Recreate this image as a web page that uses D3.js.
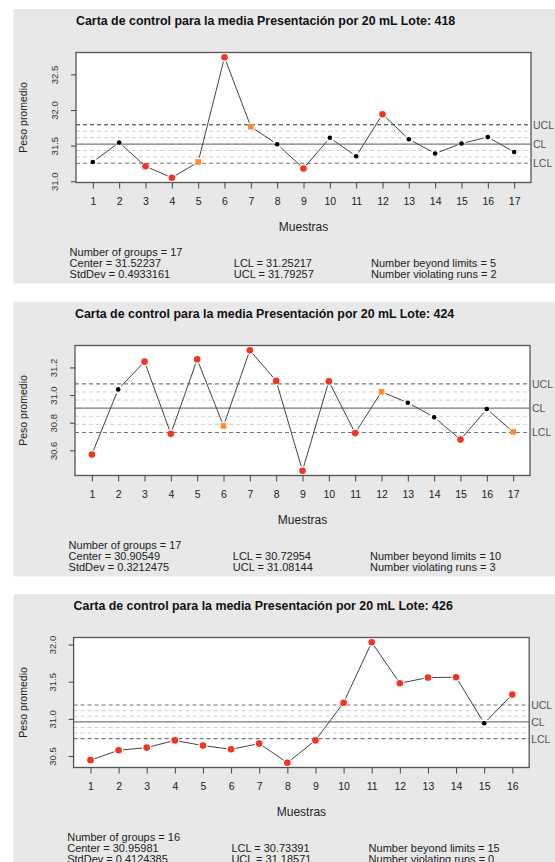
<!DOCTYPE html>
<html>
<head>
<meta charset="utf-8">
<script src="https://cdn.jsdelivr.net/npm/d3@7"></script>
<style>
body { margin: 0; background: #fff; }
svg text { font-family: "Liberation Sans", Arial, Helvetica, sans-serif; }
</style>
</head>
<body>
<div id="chart"></div>
<script>
var width = 555, height = 862;

var lotes = ["418", "424", "426"];

// lote 418
var muestras418 = [1, 2, 3, 4, 5, 6, 7, 8, 9, 10, 11, 12, 13, 14, 15, 16, 17];
var pesos418 = [31.27, 31.545, 31.21, 31.05, 31.27, 32.74, 31.765, 31.52, 31.18, 31.61, 31.35, 31.94, 31.59, 31.39, 31.53, 31.62, 31.41];
// n = normal, r = fuera de limites, o = racha
var estado418 = ["n", "n", "r", "r", "o", "r", "o", "n", "r", "n", "n", "r", "n", "n", "n", "n", "n"];
var ticks418 = [31.0, 31.5, 32.0, 32.5];
var limites418 = [31.25217, 31.52237, 31.79257]; // LCL, CL, UCL
var resumen418 = ["Number of groups = 17", "Center = 31.52237", "StdDev = 0.4933161",
                  "LCL = 31.25217", "UCL = 31.79257", "Number beyond limits = 5", "Number violating runs = 2"];

// lote 424
var muestras424 = [1, 2, 3, 4, 5, 6, 7, 8, 9, 10, 11, 12, 13, 14, 15, 16, 17];
var pesos424 = [30.57, 31.041, 31.242, 30.72, 31.259, 30.777, 31.324, 31.103, 30.453, 31.10, 30.725, 31.024, 30.945, 30.84, 30.678, 30.899, 30.734];
var estado424 = ["r", "n", "r", "r", "r", "o", "r", "r", "r", "r", "r", "o", "n", "n", "r", "n", "o"];
var ticks424 = [30.6, 30.8, 31.0, 31.2];
var limites424 = [30.72954, 30.90549, 31.08144];
var resumen424 = ["Number of groups = 17", "Center = 30.90549", "StdDev = 0.3212475",
                  "LCL = 30.72954", "UCL = 31.08144", "Number beyond limits = 10", "Number violating runs = 3"];

// lote 426
var muestras426 = [1, 2, 3, 4, 5, 6, 7, 8, 9, 10, 11, 12, 13, 14, 15, 16];
var pesos426 = [30.444, 30.577, 30.613, 30.71, 30.64, 30.59, 30.667, 30.41, 30.71, 31.217, 32.03, 31.48, 31.555, 31.56, 30.94, 31.328];
var estado426 = ["r", "r", "r", "r", "r", "r", "r", "r", "r", "r", "r", "r", "r", "r", "n", "r"];
var ticks426 = [30.5, 31.0, 31.5, 32.0];
var limites426 = [30.73391, 30.95981, 31.18571];
var resumen426 = ["Number of groups = 16", "Center = 30.95981", "StdDev = 0.4124385",
                  "LCL = 30.73391", "UCL = 31.18571", "Number beyond limits = 15", "Number violating runs = 0"];

// layout de cada panel
var panelTop = [9, 302, 594];
var boxLeft = [76, 75, 73.6];
var boxRight = [531, 530, 529.2];

var svg = d3.select("#chart").append("svg")
    .attr("width", width)
    .attr("height", height);

function drawPanel(i, muestras, pesos, estado, ticks, limites, resumen) {
    var top = panelTop[i];
    var g = svg.append("g");
    var yTop = top + 43.5, yBot = top + 173.5;

    g.append("rect")
        .attr("x", 13.5).attr("y", top)
        .attr("width", width - 13.5).attr("height", 274.5)
        .attr("fill", "#e8e8e8");

    var lo = d3.min(pesos.concat(limites)), hi = d3.max(pesos.concat(limites));
    var pad = (hi - lo) * 0.04;
    var y = d3.scaleLinear().domain([lo - pad, hi + pad]).range([yBot, yTop]);
    var n = muestras.length;
    var x = d3.scaleLinear()
        .domain([1 - 0.04 * (n - 1), n + 0.04 * (n - 1)])
        .range([boxLeft[i], boxRight[i]]);

    g.append("rect")
        .attr("x", boxLeft[i]).attr("y", yTop)
        .attr("width", boxRight[i] - boxLeft[i]).attr("height", yBot - yTop)
        .attr("fill", "#fff");

    // zonas de 1 y 2 sigma
    var sigma = (limites[2] - limites[1]) / 3;
    [-2, -1, 1, 2].forEach(function(k) {
        g.append("line")
            .attr("x1", boxLeft[i]).attr("x2", boxRight[i])
            .attr("y1", y(limites[1] + k * sigma)).attr("y2", y(limites[1] + k * sigma))
            .attr("stroke", "#cfcfcf").attr("stroke-dasharray", "4,3");
    });
    // LCL, CL, UCL
    limites.forEach(function(v, j) {
        g.append("line")
            .attr("x1", boxLeft[i]).attr("x2", boxRight[i])
            .attr("y1", y(v)).attr("y2", y(v))
            .attr("stroke", j == 1 ? "#7a7a7a" : (i == 0 && j == 2 ? "#333" : "#777"))
            .attr("stroke-width", j == 1 ? 1.3 : 1.1)
            .attr("stroke-dasharray", j == 1 ? null : "4,3");
        g.append("text")
            .attr("x", boxRight[i] + 2).attr("y", y(v))
            .attr("dominant-baseline", "central")
            .attr("font-size", "10.5px").attr("fill", "#555")
            .text(["LCL", "CL", "UCL"][j]);
    });

    // segmentos con hueco junto a cada punto
    var gap = 4.5;
    for (var k = 0; k < n - 1; k++) {
        var x1 = x(muestras[k]), y1 = y(pesos[k]);
        var x2 = x(muestras[k + 1]), y2 = y(pesos[k + 1]);
        var len = Math.sqrt((x2 - x1) * (x2 - x1) + (y2 - y1) * (y2 - y1));
        if (len <= 2 * gap) continue;
        var ux = (x2 - x1) / len, uy = (y2 - y1) / len;
        g.append("line")
            .attr("x1", x1 + ux * gap).attr("y1", y1 + uy * gap)
            .attr("x2", x2 - ux * gap).attr("y2", y2 - uy * gap)
            .attr("stroke", "#444").attr("stroke-width", 1);
    }

    muestras.forEach(function(m, k) {
        if (estado[k] == "o") {
            g.append("rect")
                .attr("x", x(m) - 2.8).attr("y", y(pesos[k]) - 2.8)
                .attr("width", 5.6).attr("height", 5.6)
                .attr("fill", "#fb8c2f");
        } else {
            g.append("circle")
                .attr("cx", x(m)).attr("cy", y(pesos[k]))
                .attr("r", estado[k] == "r" ? 3.3 : 2.3)
                .attr("fill", estado[k] == "r" ? "#f5331f" : "#000");
        }
    });

    g.append("rect")
        .attr("x", boxLeft[i]).attr("y", yTop)
        .attr("width", boxRight[i] - boxLeft[i]).attr("height", yBot - yTop)
        .attr("fill", "none").attr("stroke", "#555").attr("stroke-width", 1.3);

    // ejes
    var yAxis = g.append("g")
        .attr("transform", "translate(" + boxLeft[i] + ",0)")
        .call(d3.axisLeft(y).tickValues(ticks).tickSize(5).tickFormat(d3.format(".1f")));
    yAxis.select(".domain").remove();
    yAxis.selectAll(".tick line").attr("stroke", "#444");
    yAxis.selectAll(".tick text")
        .attr("transform", "rotate(-90)")
        .attr("text-anchor", "middle")
        .attr("x", 0).attr("y", -21).attr("dy", "0.35em")
        .attr("font-size", "9.5px").attr("fill", "#333")
        .style("font-family", "'Liberation Sans', Arial, sans-serif");

    var xAxis = g.append("g")
        .attr("transform", "translate(0," + yBot + ")")
        .call(d3.axisBottom(x).tickValues(muestras).tickSize(6));
    xAxis.select(".domain").remove();
    xAxis.selectAll(".tick line").attr("stroke", "#444");
    xAxis.selectAll(".tick text")
        .attr("y", 19).attr("dy", "0.35em")
        .attr("font-size", "10.5px").attr("fill", "#222")
        .style("font-family", "'Liberation Sans', Arial, sans-serif");

    // textos
    g.append("text")
        .attr("x", boxLeft[i]).attr("y", top + 12)
        .attr("dominant-baseline", "central")
        .attr("font-size", "12.4px").attr("font-weight", "bold").attr("fill", "#111")
        .text("Carta de control para la media Presentación por 20 mL Lote: " + lotes[i]);

    g.append("text")
        .attr("x", (boxLeft[i] + boxRight[i]) / 2).attr("y", top + 217.5)
        .attr("text-anchor", "middle").attr("dominant-baseline", "central")
        .attr("font-size", "12px").attr("fill", "#222")
        .text("Muestras");

    g.append("text")
        .attr("transform", "translate(23," + (yTop + yBot) / 2 + ") rotate(-90)")
        .attr("text-anchor", "middle").attr("dominant-baseline", "central")
        .attr("font-size", "10.5px").attr("fill", "#222")
        .text("Peso promedio");

    var colX = [boxLeft[i] - 6.4, boxLeft[i] + 157.8, boxLeft[i] + 295];
    var celdas = [[0, 0], [0, 1], [0, 2], [1, 1], [1, 2], [2, 1], [2, 2]];
    resumen.forEach(function(s, k) {
        g.append("text")
            .attr("x", colX[celdas[k][0]]).attr("y", top + 243.3 + celdas[k][1] * 10.8)
            .attr("dominant-baseline", "central")
            .attr("font-size", "11px").attr("fill", "#222")
            .text(s);
    });
}

drawPanel(0, muestras418, pesos418, estado418, ticks418, limites418, resumen418);
drawPanel(1, muestras424, pesos424, estado424, ticks424, limites424, resumen424);
drawPanel(2, muestras426, pesos426, estado426, ticks426, limites426, resumen426);
</script>
</body>
</html>
